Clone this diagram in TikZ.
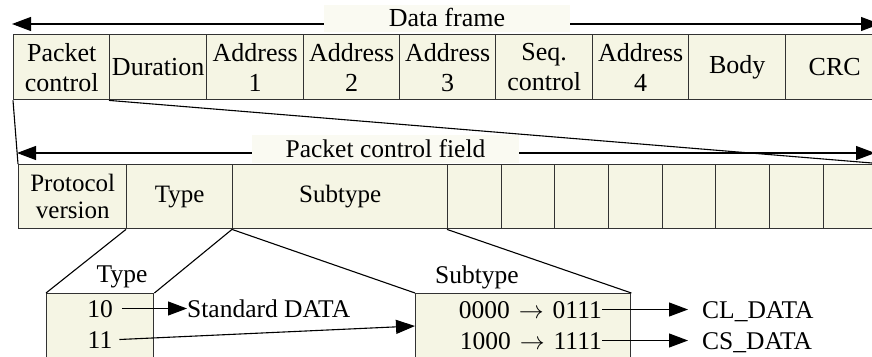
\documentclass[tikz,border=0pt]{standalone}
\usepackage{fontspec}
\setmainfont{Liberation Serif}
\usetikzlibrary{arrows.meta}
\definecolor{cellfill}{RGB}{245,245,228}
\definecolor{labelfill}{RGB}{250,250,242}
\definecolor{edgecol}{RGB}{50,50,50}
\begin{document}
\begin{tikzpicture}[x=1pt,y=-1pt,
  font=\fontsize{26}{30}\selectfont,
  cell/.style={draw=edgecol, fill=cellfill, line width=1.4pt, inner sep=0pt,
    align=center, anchor=north west},
  rowa/.style={cell, minimum height=65pt, font=\fontsize{26}{30}\selectfont},
  rowb/.style={cell, minimum height=64pt, font=\fontsize{25}{27}\selectfont},
  lbl/.style={fill=labelfill, inner xsep=0pt, inner ysep=5pt, text height=17pt, text depth=0pt},
  txt/.style={inner sep=0pt, text height=17pt, text depth=0pt, font=\fontsize{25.5}{30}\selectfont},
  conn/.style={line width=1.1pt, black},
  arr/.style={line width=1.1pt, black, -{Triangle[length=19pt,width=14pt]}}]
\clip (0,0) rectangle (872,356);
\fill[white] (0,0) rectangle (872,356);

% top row: data frame
\node[rowa, minimum width=96pt] (c1) at (13,34) {Packet\\control};
\node[rowa, minimum width=97pt] (c2) at (109,34) {Duration};
\node[rowa, minimum width=97pt] (c3) at (206,34) {Address\\1};
\node[rowa, minimum width=96pt] (c4) at (303,34) {Address\\2};
\node[rowa, minimum width=96pt] (c5) at (399,34) {Address\\3};
\node[rowa, minimum width=97pt] (c6) at (495,34) {Seq.\\control};
\node[rowa, minimum width=96pt] (c7) at (592,34) {Address\\4};
\node[rowa, minimum width=97pt] (c8) at (688,34) {Body};
\node[rowa, minimum width=98pt] (c9) at (785,34) {CRC};

% data frame label and arrows
\node[lbl, minimum width=246pt] (dfl) at (447,18.5) {Data frame};
\coordinate (dfL) at (12,24);
\coordinate (dfR) at (880,24);
\draw[arr] (dfl.west |- dfL) -- (dfL);
\draw[arr] (dfl.east |- dfR) -- (dfR);

% second row: packet control field
\node[rowb, minimum width=108pt] (d1) at (18,164) {Protocol\\version};
\node[rowb, minimum width=106pt] (d2) at (126,164) {Type};
\node[rowb, minimum width=215pt] (d3) at (232,164) {Subtype};
\node[rowb, minimum width=54pt] (d4) at (447,164) {};
\node[rowb, minimum width=53pt] (d5) at (501,164) {};
\node[rowb, minimum width=54pt] (d6) at (554,164) {};
\node[rowb, minimum width=54pt] (d7) at (608,164) {};
\node[rowb, minimum width=53pt] (d8) at (662,164) {};
\node[rowb, minimum width=54pt] (d9) at (715,164) {};
\node[rowb, minimum width=54pt] (d10) at (769,164) {};
\node[rowb, minimum width=56pt] (d11) at (823,164) {};

\node[lbl, minimum width=267pt, inner ysep=5.5pt, font=\fontsize{25.5}{30}\selectfont] (pcl) at (385.5,149) {Packet control field};
\coordinate (pcL) at (17,153);
\coordinate (pcR) at (875,153);
\draw[arr] (pcl.west |- pcL) -- (pcL);
\draw[arr] (pcl.east |- pcR) -- (pcR);

% zoom lines from data frame to packet control field
\coordinate (pcfEnd) at (872,163);
\draw[conn] (c1.south west) -- (d1.north west);
\draw[conn] (c2.south west) -- (pcfEnd);

% bottom boxes
\node[cell, minimum width=107pt, minimum height=80pt] (tbox) at (46,293) {};
\node[cell, minimum width=215pt, minimum height=80pt] (sbox) at (415,293) {};
\node[txt, anchor=base] (tlab) at (122,282) {Type};
\node[txt, anchor=base] (slab) at (477,283) {Subtype};

\draw[conn] (d2.south west) -- (tbox.north west);
\draw[conn] (d3.south west) -- (tbox.north east);
\draw[conn] (d3.south west) -- (sbox.north west);
\draw[conn] (d4.south west) -- (sbox.north east);

% type contents
\node[txt, anchor=base] (t10) at (100,317) {10};
\node[txt, anchor=base] (t11) at (100,348) {11};
\node[txt, anchor=base west] (std) at (187,317) {Standard DATA};
\draw[arr] ([xshift=9pt]t10.east) -- (std.west);
\draw[arr] ([xshift=7pt]t11.east) -- ([yshift=-33pt]sbox.north west);

% subtype contents
\node[txt, anchor=base east] (s1) at (602,318) {0000\hspace{9pt}$\rightarrow$\hspace{9pt}0111};
\node[txt, anchor=base east] (s2) at (602,349) {1000\hspace{9pt}$\rightarrow$\hspace{9pt}1111};
\node[txt, anchor=base west] (cl) at (702,318) {CL\_DATA};
\node[txt, anchor=base west] (cs) at (702,349) {CS\_DATA};
\draw[arr] (s1.east) -- ([xshift=-14pt]cl.west);
\draw[arr] (s2.east) -- ([xshift=-14pt]cs.west);
\end{tikzpicture}
\end{document}
